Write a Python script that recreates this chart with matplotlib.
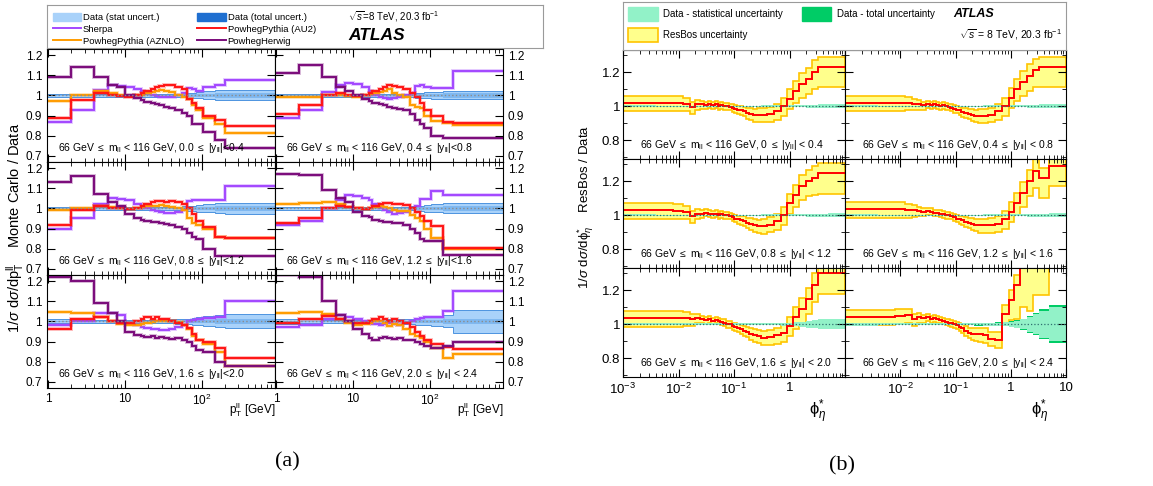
import numpy as np
import matplotlib
matplotlib.use('Agg')
import matplotlib.pyplot as plt
from matplotlib import patheffects as pe
from matplotlib.patches import Patch
from matplotlib.lines import Line2D
from matplotlib.ticker import FixedLocator, LogLocator, NullFormatter

plt.rcParams['font.family'] = ['Liberation Sans', 'DejaVu Sans']
plt.rcParams['mathtext.fontset'] = 'custom'
plt.rcParams['mathtext.rm'] = 'Liberation Sans'
plt.rcParams['mathtext.it'] = 'Liberation Sans:italic'
plt.rcParams['mathtext.bf'] = 'Liberation Sans:bold'

# ---------------------------------------------------------------- data (a)
rap_labels_a = ['0.0 $\\leq$ |y$_{\\mathrm{ll}}$|<0.4', '0.4 $\\leq$ |y$_{\\mathrm{ll}}$|<0.8',
                '0.8 $\\leq$ |y$_{\\mathrm{ll}}$|<1.2', '1.2 $\\leq$ |y$_{\\mathrm{ll}}$|<1.6',
                '1.6 $\\leq$ |y$_{\\mathrm{ll}}$|<2.0', '2.0 $\\leq$ |y$_{\\mathrm{ll}}$| < 2.4']
pt_edges = [0, 2, 4, 6, 8, 10, 13, 16, 18, 22, 25, 28, 32, 37, 45, 55, 65, 75, 85, 105, 150, 200, 900]

sherpa = [
    [0.87, 0.93, 1.025, 1.05, 1.045, 1.04, 1.03, 1.02, 1.01, 1.0, 0.995, 0.99, 0.99, 0.99, 1.0, 1.01, 1.035, 1.03, 1.02, 1.04, 1.05, 1.075],
    [0.89, 0.93, 1.015, 1.05, 1.06, 1.055, 1.04, 1.02, 1.0, 0.99, 0.985, 0.98, 0.985, 0.99, 1.0, 1.01, 1.045, 1.05, 1.04, 1.035, 1.035, 1.12],
    [0.90, 0.95, 1.02, 1.05, 1.045, 1.04, 1.02, 1.01, 1.0, 0.99, 0.985, 0.98, 0.975, 0.975, 0.98, 0.99, 1.035, 1.04, 1.04, 1.04, 1.04, 1.11],
    [0.92, 0.94, 1.0, 1.04, 1.065, 1.06, 1.05, 1.04, 1.02, 1.0, 0.99, 0.98, 0.97, 0.975, 0.98, 1.0, 1.01, 1.045, 1.045, 1.085, 1.068, 1.068],
    [0.98, 1.0, 1.04, 1.04, 1.03, 0.99, 0.98, 0.97, 0.965, 0.96, 0.96, 0.955, 0.955, 0.96, 0.97, 0.98, 1.0, 1.005, 1.01, 1.015, 1.02, 1.10],
    [0.97, 0.98, 1.01, 1.03, 1.02, 1.01, 1.0, 0.99, 0.985, 0.98, 0.985, 0.99, 0.985, 0.98, 0.99, 1.0, 1.01, 1.015, 1.02, 1.02, 1.05, 1.15],
]
pythia_au2 = [
    [0.89, 0.975, 1.01, 1.0, 0.995, 0.99, 1.0, 1.01, 1.02, 1.03, 1.04, 1.045, 1.05, 1.05, 1.04, 1.03, 0.98, 0.96, 0.94, 0.90, 0.88, 0.85],
    [0.91, 0.95, 1.0, 1.01, 1.0, 0.995, 1.0, 1.01, 1.02, 1.03, 1.04, 1.05, 1.045, 1.04, 1.03, 1.01, 0.99, 0.96, 0.93, 0.90, 0.87, 0.865],
    [0.92, 0.99, 1.01, 1.0, 1.0, 0.995, 1.0, 1.01, 1.02, 1.03, 1.035, 1.035, 1.03, 1.035, 1.03, 1.02, 1.0, 0.97, 0.94, 0.91, 0.86, 0.855],
    [0.93, 0.95, 1.0, 1.01, 1.005, 1.0, 0.995, 1.0, 1.01, 1.02, 1.025, 1.025, 1.02, 1.02, 1.015, 1.0, 0.98, 0.96, 0.94, 0.915, 0.805, 0.805],
    [0.96, 1.01, 1.02, 1.0, 0.99, 0.99, 1.0, 1.01, 1.02, 1.01, 1.02, 1.01, 1.01, 1.0, 0.99, 0.98, 0.965, 0.94, 0.91, 0.90, 0.87, 0.82],
    [0.99, 1.01, 1.025, 1.01, 1.0, 0.99, 0.99, 1.0, 1.01, 1.02, 1.01, 1.0, 1.01, 1.0, 0.99, 0.97, 0.95, 0.93, 0.91, 0.89, 0.875, 0.865],
]
pythia_aznlo = [
    [0.97, 1.0, 1.02, 1.01, 1.0, 0.995, 1.0, 1.0, 1.01, 1.015, 1.02, 1.025, 1.02, 1.015, 1.0, 0.99, 0.98, 0.95, 0.93, 0.89, 0.86, 0.815],
    [0.99, 0.99, 1.0, 1.0, 0.995, 0.99, 1.0, 1.005, 1.01, 1.015, 1.02, 1.03, 1.01, 1.0, 0.99, 0.95, 0.945, 0.94, 0.90, 0.875, 0.865, 0.855],
    [0.99, 1.0, 1.01, 1.005, 1.0, 0.995, 1.0, 1.005, 1.01, 1.01, 1.01, 1.015, 1.01, 1.005, 1.0, 0.99, 0.95, 0.93, 0.92, 0.90, 0.86, 0.855],
    [1.02, 1.025, 1.03, 1.02, 1.005, 1.0, 0.995, 1.0, 1.005, 1.01, 1.005, 1.0, 0.99, 0.985, 0.985, 0.965, 0.95, 0.94, 0.90, 0.855, 0.80, 0.80],
    [1.045, 1.04, 1.02, 1.0, 0.985, 0.98, 0.98, 0.985, 0.99, 0.995, 1.0, 1.0, 1.0, 1.0, 0.995, 0.98, 0.96, 0.93, 0.91, 0.89, 0.85, 0.78],
    [1.04, 1.045, 1.035, 1.01, 0.99, 0.98, 0.985, 0.99, 1.0, 1.0, 0.99, 0.975, 0.985, 0.98, 0.96, 0.94, 0.93, 0.92, 0.90, 0.87, 0.82, 0.84],
]
herwig = [
    [1.09, 1.14, 1.09, 1.05, 1.04, 1.0, 0.985, 0.975, 0.965, 0.96, 0.955, 0.95, 0.945, 0.94, 0.93, 0.915, 0.90, 0.86, 0.86, 0.82, 0.78, 0.74],
    [1.11, 1.15, 1.09, 1.04, 1.02, 1.0, 0.98, 0.97, 0.96, 0.955, 0.95, 0.945, 0.94, 0.935, 0.93, 0.91, 0.88, 0.86, 0.84, 0.80, 0.79, 0.79],
    [1.13, 1.16, 1.07, 1.03, 1.01, 0.97, 0.95, 0.945, 0.94, 0.935, 0.935, 0.93, 0.925, 0.92, 0.91, 0.90, 0.88, 0.86, 0.85, 0.80, 0.765, 0.765],
    [1.17, 1.165, 1.09, 1.05, 1.03, 0.98, 0.96, 0.955, 0.945, 0.94, 0.935, 0.935, 0.93, 0.93, 0.92, 0.90, 0.88, 0.85, 0.84, 0.84, 0.77, 0.77],
    [1.22, 1.20, 1.09, 1.04, 1.0, 0.95, 0.935, 0.93, 0.925, 0.93, 0.92, 0.925, 0.92, 0.915, 0.92, 0.91, 0.90, 0.88, 0.86, 0.85, 0.80, 0.78],
    [1.23, 1.22, 1.10, 1.03, 1.0, 0.96, 0.94, 0.92, 0.91, 0.92, 0.925, 0.92, 0.915, 0.92, 0.91, 0.91, 0.90, 0.89, 0.88, 0.87, 0.88, 0.90],
]
# relative data uncertainties
pt_stat = [0.003, 0.003, 0.003, 0.003, 0.003, 0.003, 0.003, 0.003, 0.003, 0.003, 0.003, 0.003, 0.003, 0.004, 0.004, 0.005, 0.006, 0.007, 0.007, 0.009, 0.012, 0.012]
pt_total = [
    [0.008, 0.007, 0.006, 0.006, 0.006, 0.006, 0.006, 0.006, 0.006, 0.006, 0.006, 0.006, 0.007, 0.007, 0.008, 0.009, 0.011, 0.013, 0.015, 0.02, 0.025, 0.025],
    [0.008, 0.007, 0.006, 0.006, 0.006, 0.006, 0.006, 0.006, 0.006, 0.006, 0.006, 0.006, 0.007, 0.007, 0.008, 0.009, 0.011, 0.013, 0.015, 0.018, 0.02, 0.02],
    [0.009, 0.008, 0.007, 0.007, 0.007, 0.007, 0.007, 0.007, 0.007, 0.007, 0.007, 0.007, 0.007, 0.008, 0.009, 0.01, 0.012, 0.014, 0.017, 0.02, 0.025, 0.027],
    [0.009, 0.008, 0.007, 0.007, 0.007, 0.007, 0.007, 0.007, 0.007, 0.007, 0.007, 0.007, 0.007, 0.008, 0.009, 0.01, 0.012, 0.014, 0.017, 0.02, 0.025, 0.025],
    [0.01, 0.009, 0.008, 0.008, 0.008, 0.008, 0.008, 0.008, 0.008, 0.008, 0.008, 0.008, 0.009, 0.01, 0.011, 0.012, 0.014, 0.016, 0.02, 0.025, 0.03, 0.035],
    [0.012, 0.01, 0.009, 0.009, 0.009, 0.009, 0.009, 0.009, 0.009, 0.009, 0.01, 0.01, 0.011, 0.012, 0.013, 0.014, 0.016, 0.018, 0.02, 0.025, 0.03, 0.055],
]

# ---------------------------------------------------------------- data (b)
rap_labels_b = ['0 $\\leq$ |y$_{\\mathrm{ll}}$| < 0.4', '0.4 $\\leq$ |y$_{\\mathrm{ll}}$| < 0.8',
                '0.8 $\\leq$ |y$_{\\mathrm{ll}}$| < 1.2', '1.2 $\\leq$ |y$_{\\mathrm{ll}}$| < 1.6',
                '1.6 $\\leq$ |y$_{\\mathrm{ll}}$| < 2.0', '2.0 $\\leq$ |y$_{\\mathrm{ll}}$| < 2.4']
phi_edges = [0, 0.004, 0.008, 0.012, 0.016, 0.020, 0.024, 0.029, 0.034, 0.039,
             0.045, 0.051, 0.057, 0.064, 0.072, 0.081, 0.091, 0.102, 0.114, 0.128,
             0.145, 0.165, 0.189, 0.219, 0.258, 0.312, 0.391, 0.524, 0.695, 0.918,
             1.153, 1.496, 1.947, 2.522, 3.277, 5.0, 10.0]
nan = float('nan')
resbos = [
    [1.02, 1.02, 1.02, 1.015, 0.995, 1.01, 1.01, 1.005, 1.01, 1.005,
     1.01, 1.0, 1.005, 1.0, 1.0, 0.995, 0.99, 0.985, 0.98, 0.975,
     0.97, 0.96, 0.955, 0.95, 0.95, 0.95, 0.955, 0.97, 1.0, 1.045,
     1.09, 1.13, 1.16, 1.20, 1.23, 1.23],
    [1.02, 1.02, 1.02, 1.02, 1.015, 1.01, 1.005, 1.01, 1.005, 1.01,
     1.005, 1.0, 1.005, 1.0, 0.995, 0.99, 0.985, 0.98, 0.975, 0.965,
     0.96, 0.955, 0.95, 0.945, 0.945, 0.945, 0.95, 0.97, 1.0, 1.05,
     1.10, 1.14, 1.18, 1.21, 1.23, 1.23],
    [1.03, 1.03, 1.025, 1.02, 0.995, 1.01, 1.01, 1.015, 1.01, 1.005,
     1.01, 1.0, 1.005, 1.0, 1.0, 0.995, 0.99, 0.98, 0.975, 0.97,
     0.965, 0.955, 0.95, 0.94, 0.935, 0.935, 0.945, 0.965, 1.0, 1.07,
     1.12, 1.17, 1.20, 1.22, 1.245, 1.245],
    [1.035, 1.035, 1.035, 1.03, 1.03, 1.025, 1.02, 1.025, 1.02, 1.015,
     1.015, 1.01, 1.005, 1.0, 1.0, 0.995, 0.99, 0.98, 0.975, 0.97,
     0.96, 0.955, 0.95, 0.945, 0.94, 0.94, 0.94, 0.95, 0.975, 1.02,
     1.07, 1.13, 1.20, 1.26, 1.22, 1.29],
    [1.035, 1.035, 1.035, 1.035, 1.03, 1.035, 1.03, 1.025, 1.03, 1.02,
     1.025, 1.02, 1.015, 1.01, 1.0, 1.0, 0.99, 0.985, 0.98, 0.97,
     0.96, 0.955, 0.945, 0.935, 0.93, 0.92, 0.925, 0.935, 0.95, 0.99,
     1.04, 1.09, 1.15, 1.23, 1.30, 1.30],
    [1.045, 1.045, 1.05, 1.055, 1.03, 1.04, 1.035, 1.04, 1.03, 1.035,
     1.03, 1.025, 1.02, 1.015, 1.01, 1.005, 1.0, 0.995, 0.985, 0.975,
     0.96, 0.95, 0.945, 0.94, 0.94, 0.935, 0.915, 0.91, 1.06, 1.145,
     1.23, 1.38, 1.40, 1.42, 1.42, nan],
]
resbos_up = [0.04, 0.04, 0.04, 0.035, 0.03, 0.025, 0.02, 0.02, 0.02, 0.018,
             0.018, 0.018, 0.018, 0.018, 0.018, 0.02, 0.02, 0.02, 0.022, 0.025,
             0.028, 0.03, 0.032, 0.035, 0.038, 0.04, 0.042, 0.045, 0.05, 0.055,
             0.06, 0.065, 0.065, 0.07, 0.06, 0.06]
resbos_dn = [0.05, 0.05, 0.05, 0.045, 0.04, 0.03, 0.025, 0.022, 0.02, 0.02,
             0.02, 0.02, 0.02, 0.02, 0.02, 0.02, 0.022, 0.022, 0.025, 0.028,
             0.03, 0.033, 0.036, 0.04, 0.042, 0.045, 0.045, 0.05, 0.055, 0.06,
             0.07, 0.08, 0.09, 0.1, 0.12, 0.12]
resbos_dn_fwd = [0.05, 0.05, 0.05, 0.045, 0.04, 0.03, 0.025, 0.022, 0.02, 0.02,
                 0.02, 0.02, 0.02, 0.02, 0.02, 0.02, 0.022, 0.022, 0.025, 0.028,
                 0.03, 0.033, 0.036, 0.04, 0.042, 0.045, 0.045, 0.05, 0.06, 0.12,
                 0.2, 0.28, 0.32, 0.25, 0.25, 0.25]
phi_stat_c = [0.005, 0.004, 0.004, 0.004, 0.004, 0.004, 0.004, 0.004, 0.004, 0.004,
              0.004, 0.004, 0.004, 0.004, 0.004, 0.004, 0.004, 0.004, 0.004, 0.004,
              0.004, 0.004, 0.004, 0.004, 0.004, 0.005, 0.005, 0.005, 0.005, 0.006,
              0.006, 0.007, 0.008, 0.009, 0.01, 0.012]
phi_stat_f = [0.006, 0.005, 0.005, 0.005, 0.005, 0.005, 0.005, 0.005, 0.005, 0.005,
              0.005, 0.005, 0.005, 0.005, 0.005, 0.005, 0.005, 0.005, 0.005, 0.005,
              0.005, 0.005, 0.005, 0.005, 0.005, 0.006, 0.006, 0.007, 0.008, 0.01,
              0.012, 0.015, 0.02, 0.025, 0.03, 0.03]
phi_stat_ff = [0.008, 0.006, 0.006, 0.006, 0.006, 0.006, 0.006, 0.006, 0.006, 0.006,
               0.006, 0.006, 0.006, 0.006, 0.006, 0.006, 0.006, 0.006, 0.006, 0.006,
               0.006, 0.006, 0.006, 0.007, 0.007, 0.008, 0.008, 0.01, 0.012, 0.015,
               0.02, 0.03, 0.045, 0.06, 0.08, 0.1]
phi_tot_ff = [0.009, 0.007, 0.007, 0.007, 0.007, 0.007, 0.007, 0.007, 0.007, 0.007,
              0.007, 0.007, 0.007, 0.007, 0.007, 0.007, 0.007, 0.007, 0.007, 0.007,
              0.007, 0.007, 0.007, 0.008, 0.008, 0.009, 0.009, 0.011, 0.013, 0.017,
              0.022, 0.033, 0.05, 0.066, 0.088, 0.11]
phi_stat = [phi_stat_c, phi_stat_c, phi_stat_c, phi_stat_c, phi_stat_f, phi_stat_ff]
phi_total = [phi_stat_c, phi_stat_c, phi_stat_c, phi_stat_c, phi_stat_f, phi_tot_ff]
resbos_dn_all = [resbos_dn, resbos_dn, resbos_dn, resbos_dn, resbos_dn, resbos_dn_fwd]

# ---------------------------------------------------------------- layout
W, H = 1153, 486
fig = plt.figure(figsize=(W / 100, H / 100), dpi=100)


def fax(x0, y0, x1, y1):
    return fig.add_axes([x0 / W, 1 - y1 / H, (x1 - x0) / W, (y1 - y0) / H])


def ticks_in(ax):
    ax.tick_params(which='both', direction='in', top=True, right=True, labelsize=8.5)
    ax.tick_params(which='major', length=6, width=0.8)
    ax.tick_params(which='minor', length=3, width=0.6)


c_sherpa, c_au2, c_aznlo, c_herwig = '#a347ff', '#ff1414', '#ff9c00', '#7a0a7a'
c_stat_a, c_tot_a, c_tot_edge = '#7fb8f0', '#a9d2fa', '#4d94e0'

# ------------------------- (a)
xa = [47, 275, 503]
ya = [49, 162, 275, 388]
pt_min = 0.97
for i in range(6):
    r, c = divmod(i, 2)
    ax = fax(xa[c], ya[r], xa[c + 1], ya[r + 1])
    edges = np.array(pt_edges, float)
    edges[0] = pt_min
    tot = np.array(pt_total[i])
    st = np.array(pt_stat)
    ax.stairs(1 + tot, edges, baseline=1 - tot, fill=True, facecolor=c_tot_a,
              edgecolor=c_tot_edge, lw=0.7)
    ax.stairs(1 + st, edges, baseline=1 - st, fill=True, color=c_stat_a)
    ax.axhline(1, color='#8c8c8c', ls=':', lw=1)
    for vals, col in [(sherpa, c_sherpa), (pythia_aznlo, c_aznlo),
                      (pythia_au2, c_au2), (herwig, c_herwig)]:
        ax.stairs(vals[i], edges, baseline=None, color=col, lw=1.4,
                  path_effects=[pe.Stroke(linewidth=2.8, foreground=col, alpha=0.3),
                                pe.Normal()])
    ax.set_xscale('log')
    ax.set_xlim(pt_min, 900)
    ax.set_ylim(0.67, 1.23)
    ax.set_yticks([0.7, 0.8, 0.9, 1.0, 1.1, 1.2])
    ax.set_yticklabels(['0.7', '0.8', '0.9', '1', '1.1', '1.2'])
    ax.xaxis.set_major_locator(FixedLocator([1, 10, 100]))
    ax.xaxis.set_minor_locator(LogLocator(base=10, subs=np.arange(2, 10)))
    ax.xaxis.set_minor_formatter(NullFormatter())
    ax.set_xticklabels(['1', '10', '$10^2$'])
    ticks_in(ax)
    ax.tick_params(labelbottom=(r == 2), labelleft=(c == 0), labelright=(c == 1))
    ax.text(0.05, 0.12, '66 GeV $\\leq$ m$_{\\mathrm{ll}}$ < 116 GeV, ' + rap_labels_a[i],
            transform=ax.transAxes, fontsize=7.5, va='center')

for xr in xa[1:]:
    fig.text(xr / W, 1 - 410 / H, 'p$_{\\mathrm{T}}^{\\mathrm{ll}}$ [GeV]', ha='right',
             va='center', fontsize=8.5)
fig.text(15 / W, 1 - 228 / H,
         '1/$\\sigma$ d$\\sigma$/dp$_{\\mathrm{T}}^{\\mathrm{ll}}$    Monte Carlo / Data',
         rotation=90, ha='center', va='center', fontsize=10.5)

lega = fax(47, 5, 543, 48)
lega.set_xticks([])
lega.set_yticks([])
for s in lega.spines.values():
    s.set_color('#9a9a9a')
    s.set_linewidth(0.8)
handles_a = [Patch(color=c_tot_a, label='Data (stat uncert.)'),
             Line2D([], [], color=c_sherpa, lw=1.4, label='Sherpa'),
             Line2D([], [], color=c_aznlo, lw=1.4, label='PowhegPythia (AZNLO)'),
             Patch(color='#1f6fd0', label='Data (total uncert.)'),
             Line2D([], [], color=c_au2, lw=1.4, label='PowhegPythia (AU2)'),
             Line2D([], [], color=c_herwig, lw=1.4, label='PowhegHerwig')]
lega.legend(handles=handles_a, ncol=2, loc='upper left', bbox_to_anchor=(0.0, 0.95),
            frameon=False, fontsize=6.8, handlelength=3.0, handleheight=0.9,
            handletextpad=0.2, labelspacing=0.28, columnspacing=1.4, borderaxespad=0.2)
fig.text(348 / W, 1 - 17 / H, '$\\sqrt{s}$=8 TeV, 20.3 fb$^{-1}$', fontsize=7, va='center')
fig.text(348 / W, 1 - 35 / H, 'ATLAS', fontsize=12.5, fontweight='bold', style='italic',
         va='center')

# ------------------------- (b)
xb = [623, 845, 1066]
yb = [50, 159, 268, 377]
phi_min = 1e-3
for i in range(6):
    r, c = divmod(i, 2)
    ax = fax(xb[c], yb[r], xb[c + 1], yb[r + 1])
    edges = np.array(phi_edges, float)
    edges[0] = phi_min
    cen = np.array(resbos[i])
    n = int(np.isfinite(cen).sum())
    up = cen[:n] + np.array(resbos_up[:n])
    dn = cen[:n] - np.array(resbos_dn_all[i][:n])
    ax.stairs(up, edges[:n + 1], baseline=dn, fill=True, facecolor='#ffff8c',
              edgecolor='#ffc400', lw=1.2)
    tot = np.array(phi_total[i])
    st = np.array(phi_stat[i])
    ax.stairs(1 + tot, edges, baseline=1 - tot, fill=True, color='#00cc66')
    ax.stairs(1 + st, edges, baseline=1 - st, fill=True, color='#92f2c8')
    ax.axhline(1, color='#2f6f6f', ls=':', lw=0.9)
    ax.stairs(cen[:n], edges[:n + 1], baseline=None, color='#ff0000', lw=1.4)
    ax.set_xscale('log')
    ax.set_xlim(phi_min, 10)
    ax.set_ylim(0.69, 1.33)
    ax.set_yticks([0.8, 1.0, 1.2])
    ax.set_yticklabels(['0.8', '1', '1.2'])
    ax.yaxis.set_minor_locator(FixedLocator([0.7, 0.9, 1.1, 1.3]))
    ax.xaxis.set_major_locator(FixedLocator([1e-3, 1e-2, 1e-1, 1, 10]))
    ax.xaxis.set_minor_locator(LogLocator(base=10, subs=np.arange(2, 10)))
    ax.xaxis.set_minor_formatter(NullFormatter())
    if c == 0:
        ax.set_xticklabels(['$10^{-3}$', '$10^{-2}$', '$10^{-1}$', '1', ''])
    else:
        ax.set_xticklabels(['', '$10^{-2}$', '$10^{-1}$', '1', '10'])
    ticks_in(ax)
    ax.tick_params(axis='x', labelsize=9.5)
    ax.tick_params(axis='y', pad=2, labelsize=9.5)
    ax.tick_params(labelbottom=(r == 2), labelleft=(c == 0), labelright=False)
    ax.text(0.077, 0.13, '66 GeV $\\leq$ m$_{\\mathrm{ll}}$ < 116 GeV, ' + rap_labels_b[i],
            transform=ax.transAxes, fontsize=7.5, va='center')

for xc in [818, 1040]:
    fig.text(xc / W, 1 - 412 / H, 'ϕ$^{*}_{\\eta}$', ha='center', va='center', fontsize=12)
fig.text(586 / W, 1 - 207 / H,
         '1/$\\sigma$ d$\\sigma$/dϕ$^{*}_{\\eta}$    ResBos / Data',
         rotation=90, ha='center', va='center', fontsize=9.5)

legb = fax(623, 2, 1066, 50)
legb.set_xticks([])
legb.set_yticks([])
for s in legb.spines.values():
    s.set_color('#9a9a9a')
    s.set_linewidth(0.8)
handles_b = [Patch(color='#92f2c8', label='Data - statistical uncertainty'),
             Patch(facecolor='#ffff8c', edgecolor='#ffc400', lw=1.2, label='ResBos uncertainty'),
             Patch(color='#00cc66', label='Data - total uncertainty')]
legb.legend(handles=handles_b, ncol=2, loc='upper left', bbox_to_anchor=(0.0, 1.0),
            frameon=False, fontsize=7, handlelength=3.0, handleheight=1.8,
            handletextpad=0.6, labelspacing=0.7, columnspacing=1.95, borderaxespad=0.15)
fig.text(953 / W, 1 - 14 / H, 'ATLAS', fontsize=9, fontweight='bold', style='italic',
         va='center')
fig.text(1062 / W, 1 - 35 / H, '$\\sqrt{s}$ = 8 TeV, 20.3 fb$^{-1}$', fontsize=7.5,
         va='center', ha='right')

# captions
fig.text(287 / W, 1 - 462 / H, '(a)', family=['Liberation Serif', 'DejaVu Serif'],
         fontsize=16, ha='center', va='center')
fig.text(842 / W, 1 - 466 / H, '(b)', family=['Liberation Serif', 'DejaVu Serif'],
         fontsize=16, ha='center', va='center')

fig.savefig('out.png', dpi=100)
